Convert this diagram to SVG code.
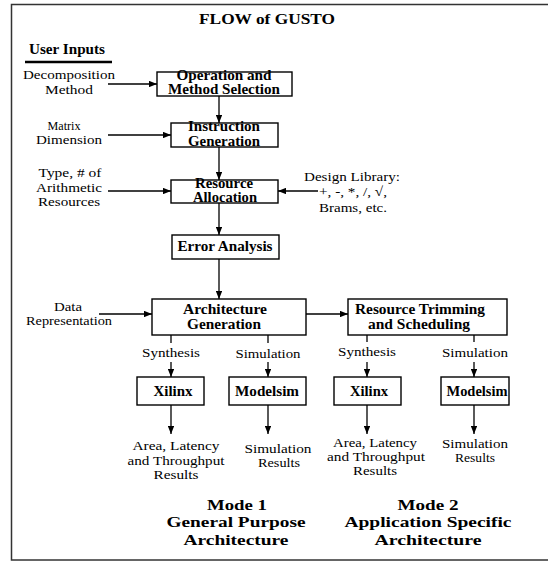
<svg xmlns="http://www.w3.org/2000/svg" width="548" height="561" viewBox="0 0 548 561">
<style>
text{font-family:'Liberation Serif','DejaVu Serif',serif;fill:#000;text-anchor:middle}
.t{font-size:13.5px}
.b{font-size:14px;font-weight:bold}
.m{font-size:15.5px;font-weight:bold}
.box{fill:#fff;stroke:#000;stroke-width:1.4}
.ln{fill:none;stroke:#000;stroke-width:1.3}
.ar{fill:none;stroke:#000;stroke-width:1.3;marker-end:url(#ah)}
</style>
<defs>
<marker id="ah" viewBox="0 0 10 8" refX="10" refY="4" markerWidth="8" markerHeight="6.4" markerUnits="userSpaceOnUse" orient="auto">
<path d="M0,0 L10,4 L0,8 Z" fill="#000"/>
</marker>
</defs>
<rect x="11.5" y="4.5" width="540" height="555.5" fill="#fff" stroke="#333" stroke-width="1.5"/>
<g id="title">
<text class="m" x="267" y="24" textLength="136" lengthAdjust="spacingAndGlyphs">FLOW of GUSTO</text>
</g>
<g id="user-inputs">
<text class="b" x="67" y="54" textLength="76" lengthAdjust="spacingAndGlyphs">User Inputs</text>
<line x1="25" y1="62" x2="112" y2="62" stroke="#000" stroke-width="2.5"/>
</g>
<g id="inputs">
<text class="t" x="69" y="79" textLength="92" lengthAdjust="spacingAndGlyphs">Decomposition</text>
<text class="t" x="69" y="94" textLength="48" lengthAdjust="spacingAndGlyphs">Method</text>
<text class="t" x="64" y="130" textLength="33" lengthAdjust="spacingAndGlyphs">Matrix</text>
<text class="t" x="69" y="144" textLength="66" lengthAdjust="spacingAndGlyphs">Dimension</text>
<text class="t" x="70" y="177" textLength="63" lengthAdjust="spacingAndGlyphs">Type, # of</text>
<text class="t" x="69" y="192" textLength="66" lengthAdjust="spacingAndGlyphs">Arithmetic</text>
<text class="t" x="69" y="206" textLength="62" lengthAdjust="spacingAndGlyphs">Resources</text>
<text class="t" x="352" y="181" textLength="96" lengthAdjust="spacingAndGlyphs">Design Library:</text>
<text class="t" x="353" y="196" textLength="68" lengthAdjust="spacingAndGlyphs">+, -, *, /, √,</text>
<text class="t" x="353" y="212" textLength="68" lengthAdjust="spacingAndGlyphs">Brams, etc.</text>
<text class="t" x="68" y="311" textLength="28" lengthAdjust="spacingAndGlyphs">Data</text>
<text class="t" x="69" y="325" textLength="86" lengthAdjust="spacingAndGlyphs">Representation</text>
</g>
<g id="connectors">
<line class="ar" x1="108" y1="84" x2="157" y2="84"/>
<line class="ar" x1="219" y1="96" x2="219" y2="123"/>
<line class="ar" x1="108" y1="135" x2="171" y2="135"/>
<line class="ar" x1="219" y1="147" x2="219" y2="180"/>
<line class="ar" x1="108" y1="191" x2="171" y2="191"/>
<line class="ar" x1="318" y1="191" x2="278" y2="191"/>
<line class="ar" x1="219" y1="203" x2="219" y2="235"/>
<line class="ar" x1="219" y1="259" x2="219" y2="299"/>
<line class="ar" x1="99" y1="314" x2="152" y2="314"/>
<line class="ar" x1="306" y1="314" x2="348" y2="314"/>
<line class="ln" x1="171" y1="335" x2="171" y2="343"/>
<line class="ar" x1="171" y1="362" x2="171" y2="377"/>
<line class="ln" x1="268" y1="335" x2="268" y2="343"/>
<line class="ar" x1="268" y1="362" x2="268" y2="377"/>
<line class="ln" x1="367" y1="335" x2="367" y2="342"/>
<line class="ar" x1="367" y1="362" x2="367" y2="377"/>
<line class="ln" x1="474" y1="335" x2="474" y2="342"/>
<line class="ar" x1="474" y1="362" x2="474" y2="377"/>
<line class="ar" x1="171" y1="405" x2="171" y2="434"/>
<line class="ar" x1="268" y1="405" x2="268" y2="434"/>
<line class="ar" x1="367" y1="405" x2="367" y2="434"/>
<line class="ar" x1="474" y1="405" x2="474" y2="434"/>
</g>
<g id="op-method">
<rect class="box" x="157" y="72" width="135" height="24"/>
<text class="b" x="224" y="80" textLength="95" lengthAdjust="spacingAndGlyphs">Operation and</text>
<text class="b" x="224" y="94" textLength="112" lengthAdjust="spacingAndGlyphs">Method Selection</text>
</g>
<g id="instr-gen">
<rect class="box" x="171" y="123" width="107" height="24"/>
<text class="b" x="224" y="131" textLength="72" lengthAdjust="spacingAndGlyphs">Instruction</text>
<text class="b" x="224" y="146" textLength="72" lengthAdjust="spacingAndGlyphs">Generation</text>
</g>
<g id="res-alloc">
<rect class="box" x="171" y="180" width="107" height="23"/>
<text class="b" x="224" y="188" textLength="58" lengthAdjust="spacingAndGlyphs">Resource</text>
<text class="b" x="225" y="202" textLength="64" lengthAdjust="spacingAndGlyphs">Allocation</text>
</g>
<g id="error-analysis">
<rect class="box" x="172" y="235" width="107" height="24"/>
<text class="b" x="225" y="251" textLength="95" lengthAdjust="spacingAndGlyphs">Error Analysis</text>
</g>
<g id="arch-gen">
<rect class="box" x="152" y="299" width="154" height="36"/>
<text class="b" x="225" y="314" textLength="84" lengthAdjust="spacingAndGlyphs">Architecture</text>
<text class="b" x="224" y="329" textLength="74" lengthAdjust="spacingAndGlyphs">Generation</text>
</g>
<g id="res-trim">
<rect class="box" x="348" y="299" width="159" height="36"/>
<text class="b" x="420" y="314" textLength="130" lengthAdjust="spacingAndGlyphs">Resource Trimming</text>
<text class="b" x="419" y="329" textLength="102" lengthAdjust="spacingAndGlyphs">and Scheduling</text>
</g>
<g id="labels">
<text class="t" x="171" y="357" textLength="58" lengthAdjust="spacingAndGlyphs">Synthesis</text>
<text class="t" x="268" y="358" textLength="65" lengthAdjust="spacingAndGlyphs">Simulation</text>
<text class="t" x="367" y="356" textLength="58" lengthAdjust="spacingAndGlyphs">Synthesis</text>
<text class="t" x="475" y="357" textLength="66" lengthAdjust="spacingAndGlyphs">Simulation</text>
</g>
<g id="xilinx1">
<rect class="box" x="137" y="377" width="67" height="28"/>
<text class="b" x="173" y="396" textLength="39" lengthAdjust="spacingAndGlyphs">Xilinx</text>
</g>
<g id="modelsim1">
<rect class="box" x="229" y="377" width="77" height="28"/>
<text class="b" x="267" y="396" textLength="64" lengthAdjust="spacingAndGlyphs">Modelsim</text>
</g>
<g id="xilinx2">
<rect class="box" x="334" y="377" width="67" height="28"/>
<text class="b" x="369" y="396" textLength="38" lengthAdjust="spacingAndGlyphs">Xilinx</text>
</g>
<g id="modelsim2">
<rect class="box" x="441" y="377" width="68" height="28"/>
<text class="b" x="477" y="396" textLength="61" lengthAdjust="spacingAndGlyphs">Modelsim</text>
</g>
<g id="results">
<text class="t" x="176" y="450" textLength="87" lengthAdjust="spacingAndGlyphs">Area, Latency</text>
<text class="t" x="176" y="465" textLength="97" lengthAdjust="spacingAndGlyphs">and Throughput</text>
<text class="t" x="176" y="479" textLength="45" lengthAdjust="spacingAndGlyphs">Results</text>
<text class="t" x="278" y="453" textLength="67" lengthAdjust="spacingAndGlyphs">Simulation</text>
<text class="t" x="279" y="467" textLength="42" lengthAdjust="spacingAndGlyphs">Results</text>
<text class="t" x="375" y="447" textLength="84" lengthAdjust="spacingAndGlyphs">Area, Latency</text>
<text class="t" x="376" y="461" textLength="98" lengthAdjust="spacingAndGlyphs">and Throughput</text>
<text class="t" x="375" y="475" textLength="44" lengthAdjust="spacingAndGlyphs">Results</text>
<text class="t" x="475" y="448" textLength="66" lengthAdjust="spacingAndGlyphs">Simulation</text>
<text class="t" x="475" y="462" textLength="40" lengthAdjust="spacingAndGlyphs">Results</text>
</g>
<g id="mode1">
<text class="m" x="237" y="510" textLength="60" lengthAdjust="spacingAndGlyphs">Mode 1</text>
<text class="m" x="236" y="527" textLength="139" lengthAdjust="spacingAndGlyphs">General Purpose</text>
<text class="m" x="236" y="545" textLength="105" lengthAdjust="spacingAndGlyphs">Architecture</text>
</g>
<g id="mode2">
<text class="m" x="428" y="510" textLength="61" lengthAdjust="spacingAndGlyphs">Mode 2</text>
<text class="m" x="428" y="527" textLength="167" lengthAdjust="spacingAndGlyphs">Application Specific</text>
<text class="m" x="428" y="545" textLength="107" lengthAdjust="spacingAndGlyphs">Architecture</text>
</g>
</svg>
